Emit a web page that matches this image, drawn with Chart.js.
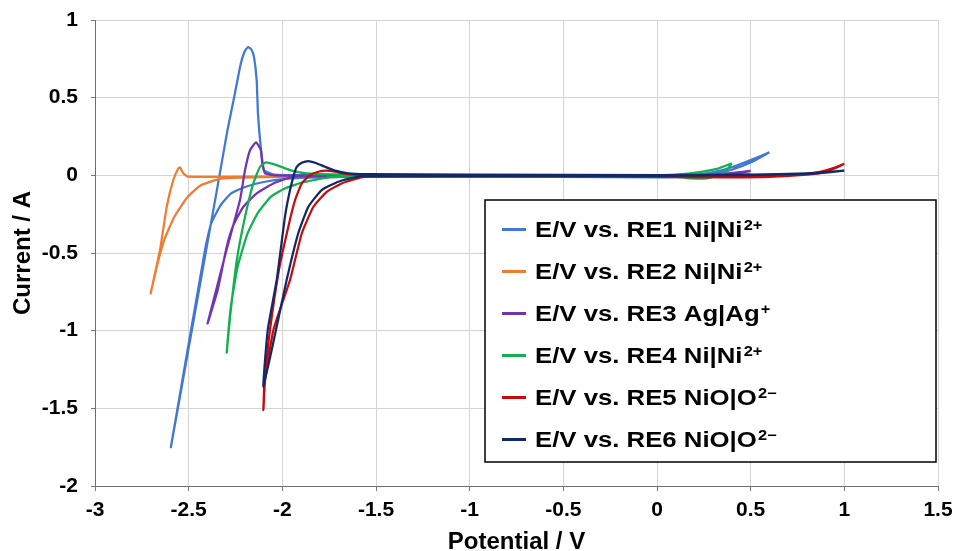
<!DOCTYPE html>
<html>
<head>
<meta charset="utf-8">
<script src="https://cdn.jsdelivr.net/npm/chart.js@4.4.1/dist/chart.umd.min.js"></script>
<style>
  html, body { margin: 0; padding: 0; background: #ffffff; }
  #wrap { width: 955px; height: 551px; }
</style>
</head>
<body>
<div id="wrap"><canvas id="c" width="955" height="551"></canvas></div>
<script>
// ---- Data (potential in V, current in A), each loop: cathodic sweep then anodic sweep ----
const re1Potential = [0.60, 0.50, 0.40, 0.30, 0.20, 0.00, -0.50, -1.00, -1.50, -1.80, -1.97, -2.10, -2.20, -2.275, -2.33, -2.38, -2.41, -2.595,
  -2.35, -2.293, -2.257, -2.222, -2.200, -2.183, -2.165, -2.151, -2.137, -2.130, -2.115, -2.097, -2.044, -1.90, -1.50, -1.00, -0.50, 0.00, 0.20, 0.30, 0.40, 0.50, 0.60];
const re1Current = [0.148, 0.082, 0.036, 0.010, -0.006, -0.013, -0.010, -0.007, -0.008, -0.013, -0.021, -0.043, -0.075, -0.118, -0.193, -0.311, -0.461, -1.750,
  -0.100, 0.290, 0.504, 0.719, 0.800, 0.826, 0.810, 0.761, 0.611, 0.397, 0.182, 0.032, 0.005, 0.002, 0.000, 0.000, 0.000, 0.000, 0.003, 0.020, 0.052, 0.098, 0.148];

const re2Potential = [0.50, 0.00, -1.00, -2.00, -2.20, -2.328, -2.435, -2.506, -2.577, -2.631, -2.666, -2.703,
  -2.653, -2.617, -2.582, -2.555, -2.546, -2.529, -2.502, -2.30, -2.00, -1.00, 0.00, 0.50];
const re2Current = [0.005, -0.005, -0.006, -0.010, -0.015, -0.021, -0.064, -0.140, -0.268, -0.418, -0.568, -0.760,
  -0.481, -0.202, -0.030, 0.045, 0.052, 0.013, -0.009, -0.010, -0.008, -0.004, -0.002, 0.010];

const re3Potential = [0.50, 0.40, 0.20, 0.00, -1.00, -1.60, -1.85, -1.941, -2.048, -2.137, -2.208, -2.261, -2.297, -2.345, -2.399,
  -2.298, -2.226, -2.199, -2.172, -2.140, -2.115, -2.107, -2.092, -2.039, -1.80, -1.00, 0.00, 0.30, 0.50];
const re3Current = [0.028, 0.010, 0.000, -0.004, -0.005, -0.006, -0.008, -0.009, -0.052, -0.116, -0.202, -0.320, -0.460, -0.738, -0.953,
  -0.481, -0.159, 0.034, 0.163, 0.212, 0.163, 0.077, 0.013, -0.001, 0.000, 0.000, 0.000, 0.005, 0.028];

const re4Potential = [0.399, 0.373, 0.337, 0.266, 0.177, 0.088, 0.00, -1.00, -1.50, -1.742, -1.884, -1.990, -2.062, -2.133, -2.186, -2.239, -2.275, -2.297,
  -2.279, -2.243, -2.199, -2.155, -2.119, -2.087, -2.030, -1.959, -1.870, -1.60, -1.00, 0.00, 0.177, 0.319, 0.399];
const re4Current = [0.077, 0.034, 0.002, -0.019, -0.019, -0.009, -0.005, -0.004, -0.006, -0.011, -0.043, -0.086, -0.139, -0.246, -0.375, -0.590, -0.848, -1.142,
  -0.911, -0.545, -0.267, -0.052, 0.055, 0.084, 0.066, 0.034, 0.013, 0.004, 0.000, 0.000, 0.013, 0.041, 0.077];

const re5Potential = [1.00, 0.95, 0.90, 0.80, 0.60, 0.35, 0.00, -1.00, -1.558, -1.594, -1.683, -1.763, -1.834, -1.896, -1.959, -2.048, -2.092, -2.101,
  -2.095, -2.066, -2.018, -1.968, -1.932, -1.896, -1.852, -1.808, -1.763, -1.719, -1.648, -1.558, -1.00, 0.00, 0.50, 0.80, 0.871, 0.95, 1.00];
const re5Current = [0.075, 0.045, 0.022, 0.004, -0.010, -0.013, -0.010, -0.008, -0.009, -0.019, -0.052, -0.106, -0.202, -0.373, -0.674, -0.997, -1.319, -1.512,
  -1.319, -0.997, -0.608, -0.331, -0.159, -0.052, 0.002, 0.023, 0.030, 0.023, 0.008, 0.002, 0.000, 0.000, 0.002, 0.010, 0.023, 0.050, 0.075];

const re6Potential = [1.00, 0.90, 0.80, 0.50, 0.00, -1.00, -1.558, -1.612, -1.701, -1.790, -1.861, -1.915, -1.977, -2.034, -2.101,
  -2.078, -2.030, -1.986, -1.959, -1.936, -1.923, -1.896, -1.861, -1.825, -1.772, -1.719, -1.648, -1.558, -1.00, 0.00, 0.50, 0.80, 0.90, 1.00];
const re6Current = [0.030, 0.018, 0.010, 0.002, -0.003, -0.004, -0.005, -0.013, -0.041, -0.095, -0.202, -0.373, -0.674, -0.996, -1.361,
  -0.996, -0.674, -0.267, -0.095, 0.013, 0.055, 0.081, 0.092, 0.081, 0.055, 0.030, 0.013, 0.008, 0.004, 0.002, 0.004, 0.013, 0.020, 0.030];

const seriesBase = ['E/V vs. RE1 Ni|Ni', 'E/V vs. RE2 Ni|Ni', 'E/V vs. RE3 Ag|Ag', 'E/V vs. RE4 Ni|Ni', 'E/V vs. RE5 NiO|O', 'E/V vs. RE6 NiO|O'];
const seriesSup = ['2+', '2+', '+', '2+', '2\u2212', '2\u2212'];
const seriesColors = ['#4178d4', '#ee7d31', '#7434b0', '#12b04f', '#c80a0a', '#10296b'];

const xAxisTitle = 'Potential / V';
const yAxisTitle = 'Current / A';

// ---- Build datasets ----
const potentials = [re1Potential, re2Potential, re3Potential, re4Potential, re5Potential, re6Potential];
const currents = [re1Current, re2Current, re3Current, re4Current, re5Current, re6Current];

const FONT = "'Liberation Sans', Arial, sans-serif";

const datasets = potentials.map((px, i) => ({
  label: seriesBase[i] + seriesSup[i],
  data: px.map((x, k) => ({ x: x, y: currents[i][k] })),
  showLine: true,
  borderColor: seriesColors[i],
  backgroundColor: seriesColors[i],
  borderWidth: 2.25,
  pointRadius: 0,
  tension: 0.15,
  fill: false,
  order: potentials.length - i
}));

const legendBox = {
  id: 'legendBox',
  afterDraw(chart) {
    const ctx = chart.ctx;
    const x0 = 485, y0 = 200, w = 451, h = 262;
    ctx.save();
    ctx.fillStyle = '#ffffff';
    ctx.fillRect(x0, y0, w, h);
    ctx.strokeStyle = '#000000';
    ctx.lineWidth = 1.5;
    ctx.strokeRect(x0, y0, w, h);
    const sx = 1.17;
    for (let i = 0; i < seriesBase.length; i++) {
      const cy = 229.5 + i * 42;
      ctx.strokeStyle = seriesColors[i];
      ctx.lineWidth = 3;
      ctx.beginPath();
      ctx.moveTo(502, cy);
      ctx.lineTo(526, cy);
      ctx.stroke();
      ctx.fillStyle = '#000000';
      ctx.textBaseline = 'alphabetic';
      ctx.textAlign = 'left';
      ctx.save();
      ctx.translate(535, cy + 7.3);
      ctx.scale(sx, 1);
      ctx.font = 'bold 22px ' + FONT;
      ctx.fillText(seriesBase[i], 0, 0);
      const bw = ctx.measureText(seriesBase[i]).width;
      ctx.font = 'bold 14px ' + FONT;
      ctx.fillText(seriesSup[i], bw + 1, -7);
      ctx.restore();
    }
    ctx.restore();
  }
};

const tickFmt = (v) => String(Math.round(v * 10) / 10);

new Chart(document.getElementById('c').getContext('2d'), {
  type: 'scatter',
  data: { datasets: datasets },
  options: {
    responsive: false,
    animation: false,
    devicePixelRatio: 1,
    layout: { padding: { top: 20, right: 17, bottom: 0, left: 0 } },
    plugins: { legend: { display: false }, tooltip: { enabled: false } },
    scales: {
      x: {
        type: 'linear', min: -3, max: 1.5,
        ticks: { stepSize: 0.5, color: '#000', padding: 7, font: { family: FONT, size: 21, weight: 'bold' }, callback: tickFmt, maxRotation: 0 },
        grid: { color: '#d4d4d4', lineWidth: 1, tickLength: 5, tickColor: '#7a7a7a' },
        border: { color: '#6e6e6e', width: 1 },
        title: { display: true, text: xAxisTitle, color: '#000', font: { family: FONT, size: 24, weight: 'bold', lineHeight: 1 }, padding: { top: 0, bottom: -3 } },
        afterFit: (s) => { s.height = 65; s.paddingRight = 12; }
      },
      y: {
        type: 'linear', min: -2, max: 1,
        ticks: { stepSize: 0.5, color: '#000', padding: 13, font: { family: FONT, size: 21, weight: 'bold' }, callback: tickFmt },
        grid: { color: '#d4d4d4', lineWidth: 1, tickLength: 4, tickColor: '#7a7a7a' },
        border: { color: '#6e6e6e', width: 1 },
        title: { display: true, text: yAxisTitle, color: '#000', font: { family: FONT, size: 24, weight: 'bold', lineHeight: 1 }, padding: { top: 11.5, bottom: 0 } },
        afterFit: (s) => { s.width = 95; s.paddingTop = 10; }
      }
    }
  },
  plugins: [legendBox]
});
</script>
</body>
</html>
